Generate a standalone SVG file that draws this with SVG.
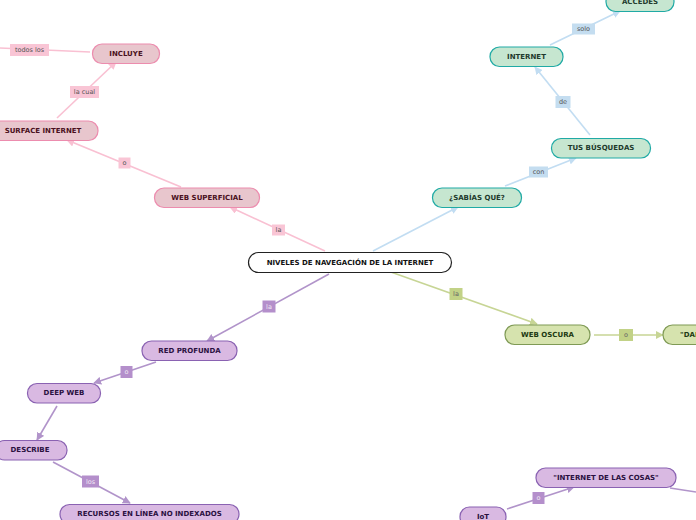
<svg xmlns="http://www.w3.org/2000/svg" width="696" height="520" viewBox="0 0 696 520">
<style>
text{font-family:"DejaVu Sans","Verdana",sans-serif;text-anchor:middle;dominant-baseline:central}
.n{font-size:7px;font-weight:bold}
.l{font-size:6.5px}
.pk rect{fill:#e8c6cd;stroke:#ec8cae;stroke-width:1.2}
.pk text{fill:#4a1020}
.tl rect{fill:#c6e6d0;stroke:#20aaa5;stroke-width:1.2}
.tl text{fill:#1e3a2c}
.ol rect{fill:#d6e3ae;stroke:#7f9a55;stroke-width:1.2}
.ol text{fill:#213a12}
.pu rect{fill:#d9b9e2;stroke:#8a62b2;stroke-width:1.2}
.pu text{fill:#2a1040}
.cp{stroke:#f9c0d2;stroke-width:1.6;fill:none}
.cb{stroke:#c2ddf2;stroke-width:1.6;fill:none}
.co{stroke:#c7d595;stroke-width:1.6;fill:none}
.cu{stroke:#b194ca;stroke-width:1.6;fill:none}
.lp rect{fill:#f9c5d5}
.lp text{fill:#555}
.lb rect{fill:#c4ddf0}
.lb text{fill:#555}
.lo rect{fill:#c2d287}
.lo text{fill:#666}
.lu rect{fill:#b48fcb}
.lu text{fill:#f0e8f4}
</style>
<defs>
<marker id="ap" viewBox="0 0 10 10" refX="9" refY="5" markerWidth="8" markerHeight="8" markerUnits="userSpaceOnUse" orient="auto"><path d="M0,0L10,5L0,10z" fill="#f9c0d2"/></marker>
<marker id="ab" viewBox="0 0 10 10" refX="9" refY="5" markerWidth="8" markerHeight="8" markerUnits="userSpaceOnUse" orient="auto"><path d="M0,0L10,5L0,10z" fill="#c2ddf2"/></marker>
<marker id="ao" viewBox="0 0 10 10" refX="9" refY="5" markerWidth="8" markerHeight="8" markerUnits="userSpaceOnUse" orient="auto"><path d="M0,0L10,5L0,10z" fill="#c7d595"/></marker>
<marker id="au" viewBox="0 0 10 10" refX="9" refY="5" markerWidth="8" markerHeight="8" markerUnits="userSpaceOnUse" orient="auto"><path d="M0,0L10,5L0,10z" fill="#b194ca"/></marker>
</defs>
<rect width="696" height="520" fill="#fff"/>
<g id="connectors">
<path class="cp" d="M325,251L230,207" marker-end="url(#ap)"/>
<path class="cp" d="M181,187L67,140" marker-end="url(#ap)"/>
<path class="cp" d="M57,118L116,62" marker-end="url(#ap)"/>
<path class="cp" d="M90,52L0,48"/>
<path class="cb" d="M373,251L458,207" marker-end="url(#ab)"/>
<path class="cb" d="M505,186L576,158" marker-end="url(#ab)"/>
<path class="cb" d="M590,135L535,67" marker-end="url(#ab)"/>
<path class="cb" d="M550,45L620,11" marker-end="url(#ab)"/>
<path class="co" d="M388,271L537,324" marker-end="url(#ao)"/>
<path class="co" d="M594,335L663,335" marker-end="url(#ao)"/>
<path class="cu" d="M329,274L207,341" marker-end="url(#au)"/>
<path class="cu" d="M156,362L94,383" marker-end="url(#au)"/>
<path class="cu" d="M57,406L37,440" marker-end="url(#au)"/>
<path class="cu" d="M53,462L130,503" marker-end="url(#au)"/>
<path class="cu" d="M507,509L574,487" marker-end="url(#au)"/>
<path class="cu" d="M670,488L696,492"/>
<g class="lp"><rect x="272" y="224.5" width="13" height="11"/><text class="l" x="278.5" y="230">la</text></g>
<g class="lp"><rect x="118.5" y="157.5" width="12" height="11"/><text class="l" x="124.5" y="163">o</text></g>
<g class="lp"><rect x="70" y="86" width="29" height="12"/><text class="l" x="84.5" y="92">la cual</text></g>
<g class="lp"><rect x="10" y="44" width="39" height="12"/><text class="l" x="29.5" y="50">todos los</text></g>
<g class="lb"><rect x="529" y="166.5" width="19" height="11"/><text class="l" x="538.5" y="172">con</text></g>
<g class="lb"><rect x="555.5" y="96" width="15" height="12"/><text class="l" x="563" y="102">de</text></g>
<g class="lb"><rect x="572" y="23.5" width="23" height="11"/><text class="l" x="583.5" y="29">solo</text></g>
<g class="lo"><rect x="449.5" y="288" width="13" height="12"/><text class="l" x="456" y="294">la</text></g>
<g class="lo"><rect x="619" y="329" width="14" height="12"/><text class="l" x="626" y="335">o</text></g>
<g class="lu"><rect x="262.5" y="300.5" width="13" height="12"/><text class="l" x="269" y="306.5">la</text></g>
<g class="lu"><rect x="120.5" y="366" width="12" height="12"/><text class="l" x="126.5" y="372">o</text></g>
<g class="lu"><rect x="82" y="475.5" width="17" height="12"/><text class="l" x="90.5" y="481.5">los</text></g>
<g class="lu"><rect x="532.5" y="492" width="12" height="12"/><text class="l" x="538.5" y="498">o</text></g>
</g>
<g id="n-center"><rect x="248.5" y="252.5" width="203" height="20" rx="10" fill="#fff" stroke="#222" stroke-width="1.2"/><text class="n" x="350" y="262.5" fill="#111">NIVELES DE NAVEGACIÓN DE LA INTERNET</text></g>
<g id="n-websuperficial" class="pk"><rect x="154.5" y="188" width="105" height="19.5" rx="9.5"/><text class="n" x="207" y="197.8">WEB SUPERFICIAL</text></g>
<g id="n-surface" class="pk"><rect x="-10" y="121" width="108" height="19.5" rx="9.5"/><text class="n" x="43" y="130.8">SURFACE INTERNET</text></g>
<g id="n-incluye" class="pk"><rect x="92.5" y="44" width="67" height="19.5" rx="9.5"/><text class="n" x="126" y="53.8">INCLUYE</text></g>
<g id="n-sabias" class="tl"><rect x="432.5" y="188" width="89" height="19.5" rx="9.5"/><text class="n" x="477" y="197.8">¿SABÍAS QUÉ?</text></g>
<g id="n-busquedas" class="tl"><rect x="551.5" y="138.5" width="99" height="19.5" rx="9.5"/><text class="n" x="601" y="148.3">TUS BÚSQUEDAS</text></g>
<g id="n-internet" class="tl"><rect x="490" y="47" width="73" height="19.5" rx="9.5"/><text class="n" x="526.5" y="56.8">INTERNET</text></g>
<g id="n-accedes" class="tl"><rect x="606" y="-8" width="68" height="19.5" rx="9.5"/><text class="n" x="640" y="2">ACCEDES</text></g>
<g id="n-weboscura" class="ol"><rect x="505" y="325" width="85" height="19.5" rx="9.5"/><text class="n" x="547.5" y="334.8">WEB OSCURA</text></g>
<g id="n-dar" class="ol"><rect x="663" y="325" width="70" height="19.5" rx="9.5"/><text class="n" x="680" y="334.8" style="text-anchor:start">"DARK WEB"</text></g>
<g id="n-redprofunda" class="pu"><rect x="142" y="341" width="95" height="19.5" rx="9.5"/><text class="n" x="189.5" y="350.8">RED PROFUNDA</text></g>
<g id="n-deepweb" class="pu"><rect x="27.5" y="383.5" width="73" height="19.5" rx="9.5"/><text class="n" x="64" y="393.3">DEEP WEB</text></g>
<g id="n-describe" class="pu"><rect x="-5" y="440.5" width="72" height="19.5" rx="9.5"/><text class="n" x="30" y="450.3">DESCRIBE</text></g>
<g id="n-recursos" class="pu"><rect x="60" y="504.5" width="179" height="19.5" rx="9.5"/><text class="n" x="149.5" y="514.3">RECURSOS EN LÍNEA NO INDEXADOS</text></g>
<g id="n-iotcosas" class="pu"><rect x="536" y="468" width="140" height="19.5" rx="9.5"/><text class="n" x="606" y="477.8">"INTERNET DE LAS COSAS"</text></g>
<g id="n-iot" class="pu"><rect x="460" y="507" width="46" height="19.5" rx="9.5"/><text class="n" x="483" y="516.8">IoT</text></g>
</svg>
